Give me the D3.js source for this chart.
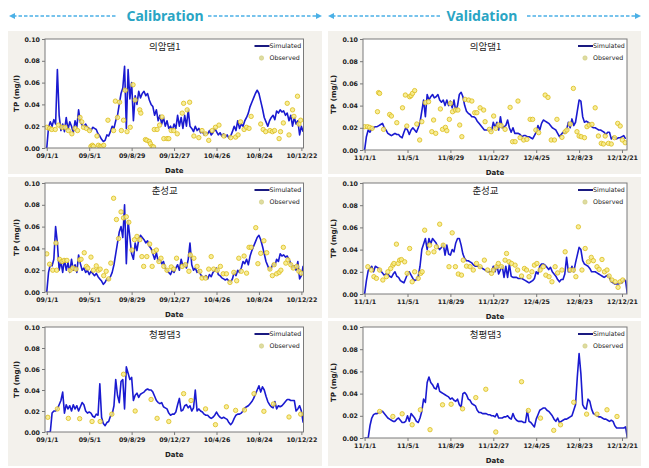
<!DOCTYPE html>
<html><head><meta charset="utf-8">
<script src="https://cdn.jsdelivr.net/npm/d3@7"></script>
<style>body{margin:0;background:#fff}svg{display:block}</style>
</head><body>
<svg id="c" width="649" height="468"></svg>
<script>
// ---------- DATA ----------
const simStepDays = 5; // simulated series sampled every 5 days from the start date
const calTickDays = [0,120,240,360,480,600,720];
const calTickLabels = ['09/1/1','09/5/1','09/8/29','09/12/27','10/4/26','10/8/24','10/12/22'];
const valTickDays = [0,120,240,360,480,600,720];
const valTickLabels = ['11/1/1','11/5/1','11/8/29','11/12/27','12/4/25','12/8/23','12/12/21'];
const yTicks = [0,0.02,0.04,0.06,0.08,0.10];
const stationNames = ['의암댐1','춘성교','청평댐3'];
const periodTitles = ['Calibration','Validation'];

const simUiamCal = [0,0.019,0.024,0.02,0.026,0.022,0.072,0.03,0.016,0.022,
0.015,0.028,0.017,0.024,0.02,0.014,0.025,0.019,0.035,0.024,
0.021,0.02,0.022,0.019,0.018,0.016,0.019,0.018,0.017,0.013,
0.011,0.008,0.006,0.007,0.012,0.011,0.015,0.02,0.018,0.025,
0.03,0.04,0.05,0.055,0.075,0.018,0.072,0.045,0.06,0.025,
0.048,0.04,0.052,0.046,0.05,0.052,0.048,0.05,0.044,0.04,
0.038,0.03,0.035,0.025,0.03,0.022,0.028,0.02,0.025,0.018,
0.02,0.016,0.022,0.018,0.03,0.02,0.028,0.018,0.03,0.02,
0.035,0.02,0.018,0.015,0.02,0.016,0.018,0.014,0.015,0.012,
0.014,0.013,0.016,0.012,0.014,0.018,0.015,0.012,0.014,0.011,
0.013,0.01,0.012,0.009,0.011,0.015,0.02,0.016,0.025,0.018,
0.022,0.02,0.025,0.028,0.032,0.038,0.042,0.046,0.05,0.053,
0.05,0.043,0.036,0.028,0.024,0.02,0.025,0.028,0.03,0.026,
0.034,0.032,0.035,0.033,0.034,0.03,0.032,0.025,0.03,0.02,
0.028,0.022,0.025,0.012,0.02,0.015];

const simChunCal = [0,0.018,0.025,0.024,0.03,0.06,0.045,0.02,0.028,0.018,
0.03,0.02,0.027,0.018,0.03,0.02,0.025,0.018,0.034,0.026,
0.02,0.022,0.018,0.02,0.016,0.019,0.017,0.015,0.017,0.014,
0.012,0.01,0.007,0.009,0.012,0.011,0.014,0.018,0.025,0.035,
0.045,0.055,0.06,0.05,0.08,0.026,0.065,0.05,0.035,0.03,
0.045,0.038,0.048,0.052,0.05,0.048,0.045,0.047,0.042,0.04,
0.035,0.03,0.036,0.028,0.03,0.026,0.028,0.022,0.02,0.018,
0.016,0.02,0.018,0.022,0.025,0.02,0.03,0.024,0.026,0.022,
0.03,0.045,0.025,0.02,0.022,0.018,0.02,0.016,0.014,0.013,
0.015,0.012,0.016,0.014,0.018,0.02,0.022,0.016,0.015,0.013,
0.012,0.011,0.012,0.01,0.009,0.012,0.018,0.015,0.02,0.018,
0.022,0.028,0.026,0.03,0.025,0.033,0.038,0.042,0.046,0.05,
0.052,0.048,0.042,0.035,0.028,0.024,0.02,0.022,0.026,0.024,
0.03,0.028,0.035,0.033,0.034,0.032,0.033,0.03,0.026,0.022,
0.024,0.02,0.028,0.012,0.015,0.024];

const simCheongCal = [0,0,0,0.018,0.02,0.02,0.022,0.026,0.03,0.038,
0.018,0.026,0.022,0.025,0.02,0.026,0.022,0.025,0.02,0.024,
0.028,0.026,0.02,0.018,0.019,0.018,0.015,0.014,0.017,0.016,
0.046,0.014,0.008,0.006,0.009,0.01,0.015,0.017,0.025,0.05,
0.035,0.028,0.048,0.05,0.022,0.062,0.056,0.05,0.052,0.03,
0.035,0.037,0.033,0.036,0.037,0.038,0.04,0.041,0.04,0.04,
0.038,0.034,0.03,0.028,0.027,0.028,0.024,0.023,0.022,0.018,
0.016,0.017,0.017,0.019,0.026,0.032,0.02,0.021,0.025,0.026,
0.023,0.025,0.02,0.023,0.04,0.02,0.022,0.02,0.019,0.017,
0.016,0.016,0.014,0.013,0.014,0.016,0.019,0.016,0.014,0.013,
0.014,0.013,0.012,0.009,0.007,0.009,0.013,0.016,0.017,0.017,
0.018,0.02,0.023,0.024,0.025,0.027,0.029,0.032,0.036,0.04,
0.044,0.038,0.043,0.04,0.034,0.029,0.026,0.024,0.023,0.029,
0.022,0.025,0.024,0.025,0.027,0.029,0.031,0.031,0.03,0.03,
0.03,0.02,0.022,0.025,0.02,0.009];

const simUiamVal = [0,0.012,0.018,0.016,0.019,0.02,0.021,0.021,0.022,0.023,
0.024,0.02,0.018,0.015,0.014,0.013,0.014,0.015,0.014,0.014,
0.012,0.011,0.016,0.02,0.018,0.014,0.018,0.02,0.018,0.016,
0.02,0.025,0.035,0.045,0.03,0.05,0.045,0.048,0.05,0.047,
0.048,0.05,0.045,0.043,0.045,0.04,0.045,0.04,0.044,0.038,
0.045,0.035,0.04,0.05,0.052,0.048,0.04,0.035,0.033,0.032,
0.03,0.03,0.029,0.026,0.024,0.022,0.02,0.018,0.018,0.018,
0.017,0.017,0.025,0.02,0.025,0.018,0.03,0.02,0.021,0.022,
0.027,0.02,0.016,0.02,0.015,0.015,0.015,0.014,0.012,0.013,
0.013,0.012,0.012,0.011,0.01,0.013,0.016,0.022,0.018,0.024,
0.027,0.026,0.025,0.024,0.022,0.02,0.019,0.018,0.015,0.012,
0.014,0.016,0.015,0.018,0.025,0.02,0.028,0.022,0.025,0.035,
0.045,0.044,0.03,0.025,0.026,0.025,0.024,0.021,0.02,0.02,
0.019,0.018,0.018,0.017,0.016,0.014,0.016,0.016,0.01,0.012,
0.011,0.01,0.011,0.011,0.012,0.013,0.01];

const simChunVal = [0,0.012,0.021,0.023,0.025,0.02,0.025,0.024,0.023,0.021,
0.019,0.017,0.018,0.018,0.016,0.015,0.018,0.02,0.016,0.015,
0.012,0.011,0.01,0.014,0.018,0.02,0.017,0.014,0.012,0.013,
0.016,0.025,0.04,0.045,0.05,0.04,0.05,0.045,0.05,0.048,
0.046,0.042,0.04,0.042,0.045,0.035,0.044,0.036,0.035,0.04,
0.038,0.046,0.05,0.05,0.044,0.036,0.032,0.03,0.03,0.029,
0.028,0.026,0.025,0.025,0.025,0.024,0.023,0.022,0.021,0.02,
0.02,0.02,0.025,0.02,0.026,0.018,0.022,0.025,0.015,0.025,
0.015,0.027,0.016,0.015,0.015,0.015,0.014,0.014,0.014,0.013,
0.012,0.011,0.01,0.011,0.012,0.014,0.02,0.018,0.025,0.027,
0.027,0.026,0.024,0.022,0.024,0.02,0.018,0.016,0.013,0.011,
0.013,0.013,0.018,0.033,0.02,0.02,0.025,0.02,0.028,0.035,
0.042,0.04,0.03,0.027,0.026,0.025,0.023,0.02,0.02,0.02,
0.019,0.018,0.017,0.016,0.015,0.016,0.017,0.015,0.011,0.01,
0.009,0.009,0.009,0.01,0.01,0.013,0.012,0];

const simCheongVal = [0,0,0,0.011,0.018,0.021,0.022,0.022,0.023,0.024,
0.024,0.022,0.02,0.018,0.017,0.016,0.015,0.015,0.017,0.018,
0.016,0.014,0.014,0.015,0.02,0.015,0.022,0.02,0.018,0.015,
0.014,0.018,0.024,0.035,0.032,0.05,0.055,0.05,0.048,0.045,
0.044,0.049,0.042,0.041,0.04,0.039,0.038,0.037,0.035,0.036,
0.034,0.033,0.035,0.03,0.028,0.04,0.041,0.039,0.035,0.034,
0.031,0.03,0.029,0.025,0.023,0.023,0.022,0.022,0.022,0.021,
0.021,0.02,0.02,0.019,0.022,0.018,0.018,0.018,0.019,0.019,
0.02,0.018,0.017,0.022,0.018,0.016,0.015,0.015,0.015,0.014,
0.014,0.025,0.015,0.014,0.012,0.01,0.017,0.021,0.025,0.026,
0.027,0.027,0.025,0.024,0.022,0.02,0.017,0.015,0.018,0.014,
0.015,0.016,0.017,0.017,0.018,0.019,0.02,0.025,0.03,0.055,
0.076,0.058,0.03,0.027,0.026,0.035,0.033,0.026,0.022,0.021,
0.02,0.019,0.019,0.018,0.017,0.017,0.016,0.015,0.016,0.015,
0.011,0.009,0.009,0.009,0.009,0.009,0.01,0];

// observed: [day since start, TP mg/L]
const obsUiamCal = [[0,.019],[8,.018],[14,.017],[24,.017],[33,.021],[43,.019],[52,.019],[61,.016],[71,.013],[80,.018],
[87,.016],[94,.028],[99,.024],[104,.019],[112,.018],[121,.016],[125,.0015],[129,.0025],[132,.0015],[142,.011],
[146,.0025],[151,.0015],[156,.0015],[161,.0025],[173,.0255],[189,.016],[194,.043],[200,.028],[206,.042],[211,.016],
[217,.0255],[222,.053],[227,.015],[236,.019],[244,.058],[250,.044],[263,.035],[266,.032],[279,.0077],[283,.0071],
[290,.006],[293,.004],[298,.0015],[302,.001],[304,.017],[312,.017],[319,.021],[326,.0285],[331,.0086],[340,.0086],
[345,.0086],[352,.016],[359,.016],[369,.013],[383,.032],[387,.041],[397,.035],[404,.042],[416,.011],[430,.0095],
[439,.016],[449,.013],[458,.007],[468,.016],[477,.019],[487,.021],[501,.011],[520,.0095],[534,.01],[541,.012],
[548,.024],[558,.017],[565,.019],[572,.018],[578,.029],[605,.022],[612,.017],[619,.015],[631,.016],[638,.015],
[644,.016],[657,.0086],[661,.015],[669,.023],[680,.041],[685,.012],[695,.035],[699,.029],[709,.0475],[713,.022],[718,.0255]];

const obsChunCal = [[0,.035],[8,.0255],[17,.02],[26,.045],[28,.02],[36,.03],[43,.028],[49,.029],[57,.029],[66,.02],
[74,.022],[83,.021],[93,.0295],[97,.03],[106,.036],[112,.0235],[116,.022],[125,.032],[132,.02],[140,.024],
[146,.02],[151,.021],[161,.015],[168,.019],[175,.012],[181,.0265],[189,.086],[197,.0665],[203,.049],[210,.0735],
[217,.068],[225,.069],[232,.064],[241,.0385],[248,.048],[255,.051],[263,.048],[269,.0325],[274,.0235],[283,.0325],
[291,.044],[298,.0235],[302,.037],[310,.0385],[317,.028],[323,.031],[331,.0235],[340,.02],[352,.023],[359,.021],
[367,.031],[383,.0235],[392,.025],[402,.019],[406,.034],[416,.031],[425,.0235],[433,.019],[439,.0128],[449,.0128],
[458,.021],[465,.0325],[472,.021],[482,.02],[491,.0235],[499,.0167],[508,.0167],[518,.0088],[529,.018],[537,.0103],
[543,.031],[550,.019],[558,.033],[565,.0173],[572,.041],[578,.041],[591,.059],[597,.026],[605,.0355],[614,.047],
[622,.036],[631,.021],[638,.015],[643,.025],[650,.0167],[657,.018],[662,.02],[669,.041],[676,.0265],[682,.0295],
[690,.025],[697,.022],[707,.0235],[713,.019],[720,.0173]];

const obsCheongCal = [[3,.014],[30,.022],[61,.013],[93,.0127],[128,.01],[151,.01],[184,.017],[217,.055],[250,.02],[295,.031],
[312,.013],[345,.01],[387,.0365],[408,.03],[449,.022],[477,.007],[508,.024],[534,.0206],[559,.021],[586,.0365],
[614,.0197],[641,.0267],[685,.0143],[718,.017]];

const obsUiamVal = [[0,.021],[8,.021],[14,.0204],[21,.0195],[36,.0345],[39,.0517],[42,.051],[53,.0186],[70,.032],[75,.0306],
[90,.0246],[106,.038],[114,.0495],[118,.0216],[126,.048],[130,.049],[134,.051],[140,.0535],[146,.0234],[154,.009],
[160,.0255],[170,.0426],[179,.0435],[188,.0165],[193,.027],[199,.015],[212,.037],[218,.0186],[226,.0204],[230,.0174],
[237,.0276],[240,.042],[246,.0345],[254,.036],[261,.036],[266,.0225],[272,.012],[281,.0456],[291,.045],[300,.0441],
[308,.0336],[314,.0336],[323,.038],[333,.036],[337,.0255],[349,.0186],[354,.0165],[361,.0306],[367,.0195],[375,.0225],
[382,.0219],[393,.0186],[407,.0384],[414,.0075],[421,.0075],[429,.0441],[435,.0111],[445,.009],[454,.0096],[463,.0276],
[470,.0276],[479,.018],[487,.0156],[505,.0495],[513,.0474],[522,.009],[531,.009],[538,.0276],[552,.0114],[561,.0165],
[566,.018],[575,.0234],[584,.0555],[594,.0165],[600,.0126],[606,.012],[615,.0111],[622,.021],[628,.0225],[636,.0231],
[645,.038],[654,.0126],[662,.006],[668,.0054],[673,.0126],[682,.006],[690,.0054],[699,.0111],[708,.024],[715,.0216],
[721,.009],[729,.0066]];

const obsChunVal = [[9,.0246],[19,.0216],[26,.0156],[33,.0141],[42,.0216],[51,.0126],[61,.0156],[65,.02],[73,.023],[79,.026],
[82,.0275],[89,.0449],[94,.0275],[98,.0305],[103,.031],[112,.029],[119,.0186],[126,.041],[133,.011],[140,.02],
[150,.0141],[157,.0186],[161,.02],[168,.0575],[178,.037],[182,.044],[194,.038],[201,.0425],[210,.0629],[220,.044],
[236,.0246],[245,.0551],[254,.0246],[262,.018],[271,.017],[276,.0305],[285,.0251],[295,.0246],[304,.0216],[313,.0275],
[323,.0246],[335,.0305],[344,.0216],[355,.0186],[360,.0216],[369,.0246],[374,.0275],[383,.0246],[393,.0305],[397,.0365],
[404,.029],[411,.0275],[421,.026],[428,.0216],[439,.0162],[447,.023],[453,.0216],[460,.0156],[468,.02],[475,.026],
[482,.0275],[491,.0216],[500,.0246],[507,.017],[516,.0156],[524,.011],[533,.0246],[540,.019],[552,.0216],[561,.038],
[575,.0216],[584,.0216],[591,.0156],[598,.0605],[608,.0216],[617,.041],[626,.029],[634,.033],[640,.03],[650,.0246],
[656,.0222],[664,.0311],[671,.02],[678,.0216],[684,.0162],[692,.0126],[701,.011],[709,.006],[715,.011],[722,.0126]];

const obsCheongVal = [[42,.0239],[79,.0194],[105,.0218],[133,.0119],[156,.0254],[183,.0075],[218,.0299],[242,.0304],[274,.0263],[311,.0364],
[339,.0439],[367,.0054],[439,.0507],[458,.0248],[492,.0179],[529,.0069],[548,.0119],[585,.0322],[621,.0215],[650,.0215],
[678,.0254],[706,.0194]];

// ---------- LAYOUT ----------
const svg = d3.select('#c');
const cols = [
  {bx0:8, bx1:322, L:45, R:303.5, dom:[-5,726], ticks:calTickDays, labels:calTickLabels, ylab:'TP (mg/l)', ylx:16},
  {bx0:328, bx1:641, L:363, R:627, dom:[-4.5,734], ticks:valTickDays, labels:valTickLabels, ylab:'TP (mg/L)', ylx:333}
];
const rows = [
  {by0:31, by1:174, T:39, B:[148,150]},
  {by0:177, by1:318, T:183, B:[292,294]},
  {by0:321, by1:466, T:327, B:[432,438]}
];
const panels = [
  {c:0,r:0,sim:simUiamCal,obs:obsUiamCal},
  {c:0,r:1,sim:simChunCal,obs:obsChunCal},
  {c:0,r:2,sim:simCheongCal,obs:obsCheongCal},
  {c:1,r:0,sim:simUiamVal,obs:obsUiamVal},
  {c:1,r:1,sim:simChunVal,obs:obsChunVal},
  {c:1,r:2,sim:simCheongVal,obs:obsCheongVal}
];

const tickFont = 'DejaVu Sans, Verdana, sans-serif';
const lineColor = '#1a1ad0';
const obsFill = '#f6ea86', obsStroke = '#dcbc1c';

// header
const headerColor = '#2aa5c4', arrowColor = '#4bb0e6';
const headers = [
  {tx:165, a:[9,117], b:[208,322]},
  {tx:482, a:[328,440], b:[527,641]}
];
headers.forEach((h,k)=>{
  const g = svg.append('g');
  g.append('text').attr('x',h.tx).attr('y',21).attr('text-anchor','middle')
    .attr('font-family','Noto Sans, Open Sans, sans-serif').attr('font-weight','bold')
    .attr('font-size',14).attr('fill',headerColor).text(periodTitles[k]);
  const yA = 16;
  [[h.a[0]+4,h.a[1]],[h.b[0],h.b[1]-4]].forEach(s=>{
    g.append('line').attr('x1',s[0]).attr('x2',s[1]).attr('y1',yA).attr('y2',yA)
      .attr('stroke',arrowColor).attr('stroke-width',1.6).attr('stroke-dasharray','3.5,2');
  });
  g.append('path').attr('d',`M${h.a[0]},${yA} l6,-3 l0,6 Z`).attr('fill',arrowColor);
  g.append('path').attr('d',`M${h.b[1]},${yA} l-6,-3 l0,6 Z`).attr('fill',arrowColor);
});

panels.forEach((p,pi)=>{
  const col = cols[p.c], row = rows[p.r];
  const L = col.L, R = col.R, T = row.T, B = row.B[p.c];
  const g = svg.append('g');
  g.append('rect').attr('x',col.bx0).attr('y',row.by0).attr('width',col.bx1-col.bx0).attr('height',row.by1-row.by0)
    .attr('fill','#f3f1ec');
  g.append('rect').attr('x',L).attr('y',T).attr('width',R-L).attr('height',B-T).attr('fill','#fff');

  const x = d3.scaleLinear().domain(col.dom).range([L,R]);
  const y = d3.scaleLinear().domain([0,0.1]).range([B,T]);

  const clipId = 'clip'+pi;
  g.append('clipPath').attr('id',clipId).append('rect').attr('x',L).attr('y',T-2).attr('width',R-L).attr('height',B-T+2);

  // axes
  const ya = g.append('g').attr('transform',`translate(${L},0)`)
    .call(d3.axisLeft(y).tickValues(yTicks).tickFormat(d3.format('.2f')).tickSize(3).tickPadding(2));
  const xa = g.append('g').attr('transform',`translate(0,${B})`)
    .call(d3.axisBottom(x).tickValues(col.ticks).tickFormat((d,i)=>col.labels[i]).tickSize(3).tickPadding(3));
  [ya,xa].forEach(a=>{
    a.select('.domain').remove();
    a.selectAll('line').attr('stroke','#777');
    a.selectAll('text').attr('font-family',tickFont).attr('font-weight','bold').attr('font-size',6.3).attr('fill','#222');
  });

  // simulated line
  const line = d3.line().x((d,i)=>x(i*simStepDays)).y(d=>y(d)).curve(d3.curveLinear);
  g.append('path').datum(p.sim).attr('clip-path',`url(#${clipId})`).attr('d',line)
    .attr('fill','none').attr('stroke',lineColor).attr('stroke-width',1.6).attr('stroke-linejoin','round');

  // observed points
  g.append('g').attr('clip-path',`url(#${clipId})`).selectAll('circle').data(p.obs).join('circle')
    .attr('cx',d=>x(d[0])).attr('cy',d=>y(d[1])).attr('r',2.2)
    .attr('fill',obsFill).attr('fill-opacity',0.85).attr('stroke',obsStroke).attr('stroke-width',0.8);

  // frame
  g.append('rect').attr('x',L).attr('y',T).attr('width',R-L).attr('height',B-T)
    .attr('fill','none').attr('stroke','#7a7a7a').attr('stroke-width',1);

  // title
  g.append('text').attr('x',(L+R)/2-9.5).attr('y',T+10.5).attr('text-anchor','middle')
    .attr('font-family','Noto Sans CJK KR, sans-serif').attr('font-size',9.5).attr('fill','#222')
    .text(stationNames[p.r]);

  // legend
  const lg = g.append('g');
  lg.append('line').attr('x1',R-49).attr('x2',R-34).attr('y1',T+7).attr('y2',T+7)
    .attr('stroke','#1a1a80').attr('stroke-width',2);
  lg.append('text').attr('x',R-34).attr('y',T+9.2).attr('font-family',tickFont).attr('font-size',6.3)
    .attr('fill','#222').text('Simulated');
  lg.append('circle').attr('cx',R-42).attr('cy',T+19).attr('r',2.2).attr('fill','#dedca0').attr('stroke','#d0cc80').attr('stroke-width',0.6);
  lg.append('text').attr('x',R-34).attr('y',T+21.2).attr('font-family',tickFont).attr('font-size',6.3)
    .attr('fill','#222').text('Observed');

  // axis titles
  g.append('text').attr('x',(L+R)/2).attr('y',B+25).attr('text-anchor','middle')
    .attr('font-family',tickFont).attr('font-weight','bold').attr('font-size',7).attr('fill','#222').text('Date');
  g.append('text').attr('transform',`translate(${col.ylx},${(T+B)/2}) rotate(-90)`).attr('text-anchor','middle')
    .attr('dy','0.35em').attr('font-family',tickFont).attr('font-weight','bold').attr('font-size',7.2).attr('fill','#222')
    .text(col.ylab);
});
</script>
</body></html>
